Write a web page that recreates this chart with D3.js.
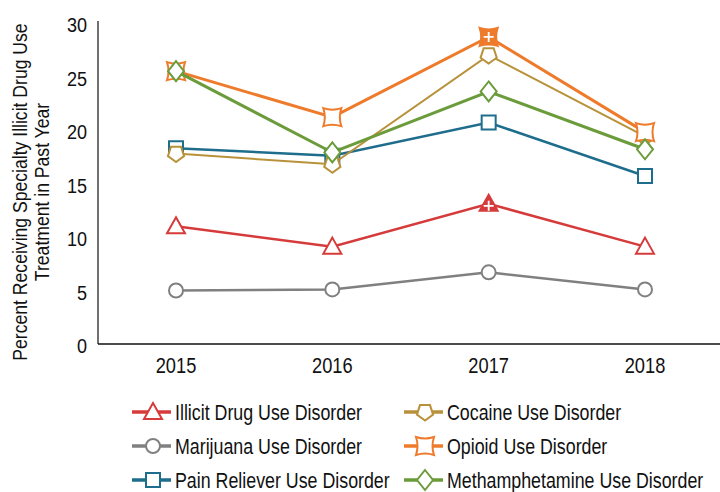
<!DOCTYPE html>
<html>
<head>
<meta charset="utf-8">
<script src="https://cdn.jsdelivr.net/npm/d3@7"></script>
<style>
  body { margin: 0; background: #fff; }
  text { font-family: "Liberation Sans", Arial, sans-serif; fill: #111; }
</style>
</head>
<body>
<svg id="chart" width="720" height="492"></svg>
<script>
// Jahre und Reihen
const years = ["2015", "2016", "2017", "2018"];
const yTicks = [0, 5, 10, 15, 20, 25, 30];

const illicitValues = [11.0, 9.1, 13.1, 9.1];
const marijuanaValues = [5.0, 5.1, 6.7, 5.1];
const painValues = [18.3, 17.6, 20.7, 15.7];
const cocaineValues = [17.8, 16.8, 27.0, 19.4];
const opioidValues = [25.5, 21.2, 28.7, 19.8];
const methValues = [25.5, 17.9, 23.6, 18.2];

const seriesNames = [
  "Illicit Drug Use Disorder",
  "Marijuana Use Disorder",
  "Pain Reliever Use Disorder",
  "Cocaine Use Disorder",
  "Opioid Use Disorder",
  "Methamphetamine Use Disorder"
];

// Signifikanz-Markierung (gefüllt mit Plus) pro Reihe/Jahr
const illicitSig = [false, false, true, false];
const opioidSig = [false, false, true, false];

const series = [
  { name: seriesNames[0], values: illicitValues, sig: illicitSig, color: "#d63b3b", shape: "triangle", width: 2.5 },
  { name: seriesNames[1], values: marijuanaValues, sig: null, color: "#808080", shape: "circle", width: 2.5 },
  { name: seriesNames[2], values: painValues, sig: null, color: "#1f6d8c", shape: "square", width: 2.5 },
  { name: seriesNames[3], values: cocaineValues, sig: null, color: "#b8923a", shape: "pentagon", width: 2 },
  { name: seriesNames[4], values: opioidValues, sig: opioidSig, color: "#ee7b2b", shape: "star4", width: 3 },
  { name: seriesNames[5], values: methValues, sig: null, color: "#6b9b3a", shape: "diamond", width: 3 }
];

const svg = d3.select("#chart");
const W = 720;
const axisLeft = 98;

const x = d3.scalePoint().domain(years).range([176, 645]);
const y = d3.scaleLinear().domain([0, 30]).range([344, 23]);

// schmale Schrift nachbilden (keine Condensed-Schrift installiert)
function narrowText(sel, tx, ty, sx, extra) {
  return sel.append("text")
    .attr("transform", `translate(${tx},${ty})${extra || ""} scale(${sx},1)`);
}

// Achsen
svg.append("line").attr("x1", axisLeft).attr("x2", axisLeft)
  .attr("y1", y(30) - 2).attr("y2", y(0)).attr("stroke", "#111").attr("stroke-width", 1.2);
svg.append("line").attr("x1", axisLeft).attr("x2", W)
  .attr("y1", y(0)).attr("y2", y(0)).attr("stroke", "#111").attr("stroke-width", 1.5);

yTicks.forEach(d => {
  narrowText(svg, 87, y(d) + 9, 0.86)
    .attr("text-anchor", "end").attr("font-size", 21).text(d);
});

years.forEach(d => {
  narrowText(svg, x(d), 373, 0.83)
    .attr("text-anchor", "middle").attr("font-size", 22).text(d);
});

const title = svg.append("text")
  .attr("transform", "translate(27,192) rotate(-90) scale(0.88,1)")
  .attr("text-anchor", "middle").attr("font-size", 20);
title.append("tspan").attr("x", 0).attr("dy", 0).text("Percent Receiving Specialty Illicit Drug Use");
title.append("tspan").attr("x", 0).attr("dy", 22).text("Treatment in Past Year");

// Marker-Formen
function markerPath(shape) {
  switch (shape) {
    case "triangle": return "M0,-9L9,7L-9,7Z";
    case "circle": return d3.symbol().type(d3.symbolCircle).size(Math.PI * 49)();
    case "square": return "M-7,-7H7V7H-7Z";
    case "pentagon": {
      // nach unten zeigendes Fünfeck
      const pts = d3.range(5).map(i => {
        const a = Math.PI / 2 + i * 2 * Math.PI / 5;
        return [8.5 * Math.cos(a), 8.5 * Math.sin(a)];
      });
      return "M" + pts.map(p => p.join(",")).join("L") + "Z";
    }
    case "star4": return "M-9,-9Q0,-6 9,-9Q6,0 9,9Q0,6 -9,9Q-6,0 -9,-9Z";
    case "diamond": return "M0,-10L8,0L0,10L-8,0Z";
  }
}

const line = d3.line().x((d, i) => x(years[i])).y(d => y(d));

series.forEach(s => {
  const g = svg.append("g");
  g.append("path").datum(s.values)
    .attr("d", line).attr("fill", "none")
    .attr("stroke", s.color).attr("stroke-width", s.width);
  s.values.forEach((v, i) => {
    const filled = s.sig && s.sig[i];
    const m = g.append("g").attr("transform", `translate(${x(years[i])},${y(v)})`);
    m.append("path").attr("d", markerPath(s.shape))
      .attr("fill", filled ? s.color : "#fff")
      .attr("stroke", s.color).attr("stroke-width", 2);
    if (filled) {
      const dy = s.shape === "triangle" ? 2 : 0;
      m.append("path").attr("d", `M-5,${dy}H5M0,${dy - 5}V${dy + 5}`)
        .attr("stroke", "#fff").attr("stroke-width", 1.8);
    }
  });
});

// Legende
const legendOrder = [0, 3, 1, 4, 2, 5];
legendOrder.forEach((si, k) => {
  const s = series[si];
  const col = k % 2, row = Math.floor(k / 2);
  const cx = col === 0 ? 153 : 425;
  const cy = 412 + row * 34;
  const g = svg.append("g");
  g.append("line").attr("x1", cx - 21).attr("x2", cx + 18)
    .attr("y1", cy).attr("y2", cy).attr("stroke", s.color).attr("stroke-width", 3.5);
  g.append("path").attr("transform", `translate(${cx},${cy})`)
    .attr("d", markerPath(s.shape)).attr("fill", "#fff")
    .attr("stroke", s.color).attr("stroke-width", 2);
  narrowText(g, cx + 22, cy + 8, 0.81).attr("font-size", 22).text(s.name);
});
</script>
</body>
</html>
